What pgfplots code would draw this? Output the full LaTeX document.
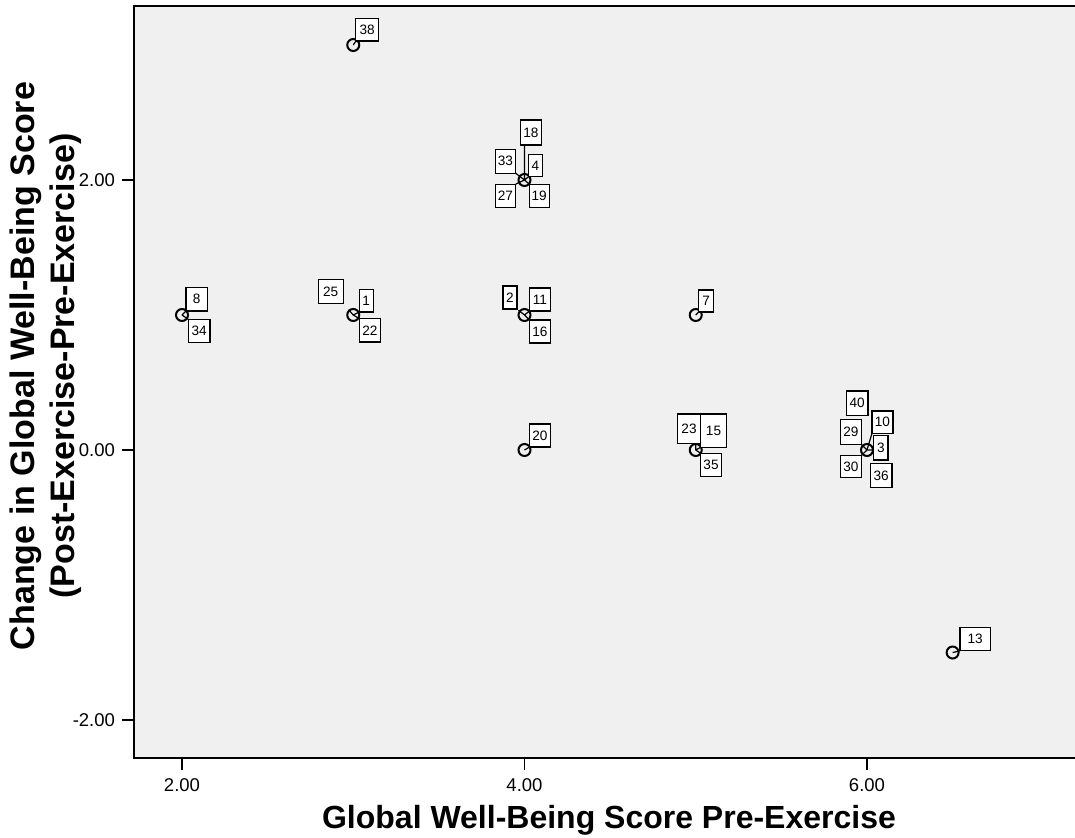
\documentclass[border=0pt]{standalone}
\usepackage{fontspec}
\setmainfont{Liberation Sans}
\usepackage{pgfplots}
\usepackage{pgfplotstable}
\pgfplotsset{compat=1.18}
\definecolor{panel}{HTML}{F0F0F0}

% distinct observed points
\pgfplotstableread{
x   y
2   1
3   3
3   1
4   2
4   1
4   0
5   1
5   0
6   0
6.5 -1.5
}\ptsdata

% case labels: box centre offset (bx,by) and box size (w,h) in units of 0.5pt, y upward
\pgfplotstableread{
lab x   y    bx    by    w    h
8   2   1    14.7  15.7  21.3 23.3
34  2   1    17.2 -16.0  21.7 23.3
38  3   3    14.0  15.3  22.6 22.6
25  3   1   -22.5  23.5  25.0 24.0
1   3   1    13.0  14.4  14.0 22.7
22  3   1    16.7 -15.3  21.4 23.4
18  4   2     6.5  47.5  21.6 25.0
33  4   2   -19.0  18.7  20.6 24.0
4   4   2    11.0  14.5  14.0 22.4
27  4   2   -19.0 -15.7  20.6 23.3
19  4   2    14.7 -15.7  20.0 23.3
2   4   1   -14.5  17.5  14.0 23.0
11  4   1    15.5  15.5  21.0 23.0
16  4   1    15.5 -16.5  21.0 23.0
20  4   0    15.5  14.5  21.0 23.0
7   5   1    10.5  14.0  15.0 22.0
23  5   0    -6.7  21.4  23.4 29.3
15  5   0    17.8  19.4  25.6 33.3
35  5   0    15.3 -15.0  20.6 23.3
40  6   0    -9.8  46.9  21.6 24.3
29  6   0   -16.1  18.2  21.0 25.0
10  6   0    15.5  27.9  21.0 22.3
3   6   0    13.9   2.4  14.3 24.7
30  6   0   -16.1 -16.5  21.0 22.3
36  6   0    14.2 -25.5  21.6 24.3
13  6.5 -1.5 22.5  13.3  30.3 23.4
}\labdata

% leader segments: point -> edge of its case box, separated by nan rows
\pgfplotstableread{
x       y
2       1
2.02365 1.03000
nan     nan
2       1
2.03708 0.96778
nan     nan
3       3
3.01577 3.02963
nan     nan
3       1
2.97314 1.03926
nan     nan
3       1
3.03504 1.02259
nan     nan
3       1
3.03504 0.97333
nan     nan
4       2
4       2.25926
nan     nan
4       2
3.94920 2.04963
nan     nan
4       2
4.02336 2.02444
nan     nan
4       2
3.94920 1.97000
nan     nan
4       2
4.02745 1.97000
nan     nan
4       1
3.96496 1.03556
nan     nan
4       1
4.02920 1.02963
nan     nan
4       1
4.02920 0.96296
nan     nan
4       0
4.02920 0.02222
nan     nan
5       1
5.01752 1.02222
nan     nan
5       0
5       0.05000
nan     nan
5       0
5.02920 0.02037
nan     nan
5       0
5.02920 -0.02481
nan     nan
6       0
5.96730 0.04222
nan     nan
6       0
6.02920 0.12370
nan     nan
6       0
6.03942 0
nan     nan
6       0
5.96730 -0.03963
nan     nan
6.5     -1.5
6.54321 -1.48815
}\leaderdata

\begin{document}
\begin{tikzpicture}
\begin{axis}[
  scale only axis, width=471.5pt, height=376pt,
  xmin=1.7197, xmax=7.2264, ymin=-2.2815, ymax=3.2889,
  axis background/.style={fill=panel},
  axis line style={line width=1pt, black},
  xtick={2,4,6}, xticklabels={2.00,4.00,6.00},
  ytick={-2,0,2}, yticklabels={-2.00,0.00,2.00},
  xtick pos=bottom, ytick pos=left,
  tick align=outside, major tick length=6pt,
  tick style={line width=0.75pt, black},
  ticklabel style={font=\fontsize{9.25}{11}\selectfont},
  xticklabel style={yshift=-1pt},
  xlabel={Global Well-Being Score Pre-Exercise},
  ylabel={Change in Global Well-Being Score\\(Post-Exercise-Pre-Exercise)},
  xlabel style={font=\fontsize{16}{18.5}\selectfont\bfseries,
    at={(axis description cs:0.5037,-0.0931)}, anchor=base},
  ylabel style={font=\fontsize{17}{20.25}\selectfont\bfseries,
    at={(axis description cs:-0.0938,0.5213)}, anchor=center, align=center},
  unbounded coords=jump,
]
% leader lines from each point to its case label
\addplot[draw=black, line width=0.6pt, mark=none] table[x=x, y=y] {\leaderdata};
% observations
\addplot[only marks, mark=o, mark size=3pt,
  mark options={line width=1pt, draw=black}]
  table[x=x, y=y] {\ptsdata};
% case number boxes
\addplot[draw=none, mark=none, nodes near coords, point meta=explicit symbolic,
  visualization depends on={\thisrow{bx}\as\lbx},
  visualization depends on={\thisrow{by}\as\lby},
  visualization depends on={\thisrow{w}\as\lbw},
  visualization depends on={\thisrow{h}\as\lbh},
  nodes near coords style={draw=black, fill=white, text=black, line width=0.55pt,
    inner sep=0pt, minimum width={\lbw*0.5pt}, minimum height={\lbh*0.5pt},
    anchor=center, xshift={\lbx*0.5pt}, yshift={\lby*0.5pt},
    font=\fontsize{6.8}{8}\selectfont}]
  table[x=x, y=y, meta=lab] {\labdata};
\end{axis}
\pgfresetboundingbox
\path[use as bounding box] (-67pt,-39.5pt) rectangle (470.5pt,379pt);
\end{tikzpicture}
\end{document}
